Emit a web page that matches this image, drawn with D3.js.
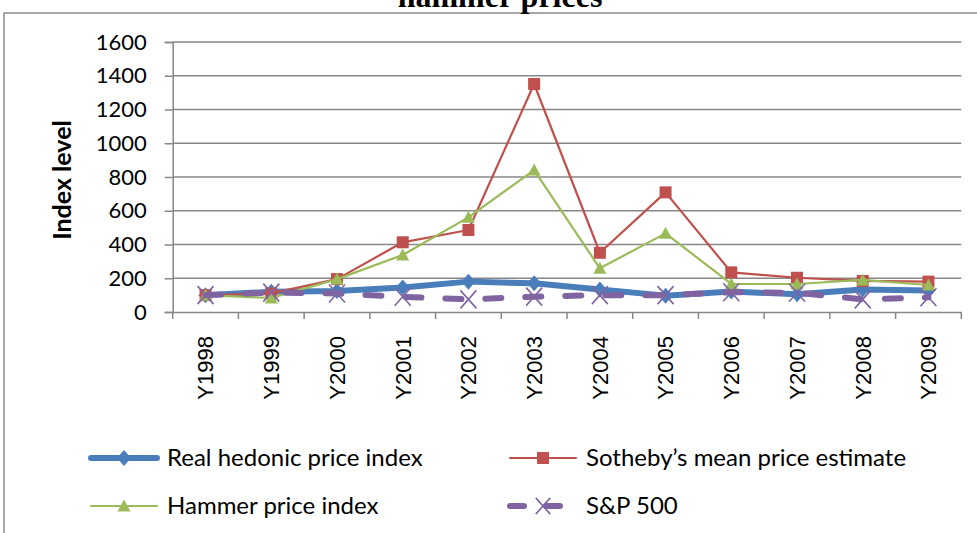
<!DOCTYPE html>
<html>
<head>
<meta charset="utf-8">
<script src="https://cdn.jsdelivr.net/npm/d3@7"></script>
<style>
  html, body { margin: 0; padding: 0; background: #fff; }
  svg { display: block; }
</style>
</head>
<body>
<svg id="chart" width="977" height="533"></svg>
<script>
const categories = ["Y1998","Y1999","Y2000","Y2001","Y2002","Y2003","Y2004","Y2005","Y2006","Y2007","Y2008","Y2009"];
const hedonic   = [100, 120, 125, 145, 180, 170, 134, 97, 121, 105, 134, 127];
const sothebys  = [100, 110, 195, 413, 486, 1351, 351, 709, 235, 203, 184, 180];
const hammer    = [100, 83, 195, 338, 561, 841, 259, 466, 166, 166, 190, 160];
const sp500     = [100, 115, 110, 90, 75, 91, 100, 100, 117, 114, 75, 87];
const yTicks = [0, 200, 400, 600, 800, 1000, 1200, 1400, 1600];
const seriesNames = ["Real hedonic price index", "Sotheby\u2019s mean price estimate", "Hammer price index", "S&P 500"];
const titleText = "hammer prices";
const yLabel = "Index level";

const svg = d3.select("#chart");
const W = 977, H = 533;
const plot = {left: 172.7, right: 961.3, top: 42, bottom: 312};
const gridColor = "#878787";
const calibri = "Lato, 'Open Sans', sans-serif";

// frame
svg.append("path")
  .attr("d", `M4,${H} L4,13 L${W},13`)
  .attr("fill", "none").attr("stroke", "#8c8c8c").attr("stroke-width", 1.5);

// title (partially cut off at top, as in the reference)
svg.append("text").text(titleText)
  .attr("x", 500).attr("y", 7)
  .attr("text-anchor", "middle")
  .attr("font-family", "'Liberation Serif', 'Times New Roman', serif")
  .attr("font-weight", "bold").attr("font-size", 32);

const x = d3.scaleBand().domain(categories).range([plot.left, plot.right]);
const y = d3.scaleLinear().domain([0, 1600]).range([plot.bottom, plot.top]);
const cx = c => x(c) + x.bandwidth() / 2;

// gridlines
svg.append("g").selectAll("line").data(yTicks.filter(v => v > 0)).join("line")
  .attr("x1", plot.left).attr("x2", plot.right)
  .attr("y1", d => y(d)).attr("y2", d => y(d))
  .attr("stroke", gridColor).attr("stroke-width", 1.5);

// y axis
const yAxis = d3.axisLeft(y).tickValues(yTicks).tickSize(8).tickPadding(18).tickFormat(d3.format("d"));
const gy = svg.append("g").attr("transform", `translate(${plot.left},0)`).call(yAxis);
gy.select(".domain").attr("stroke", gridColor).attr("stroke-width", 1.5);
gy.selectAll(".tick line").attr("stroke", gridColor).attr("stroke-width", 1.5);
gy.selectAll(".tick text").attr("font-family", calibri).attr("font-size", 22).attr("fill", "#000");

// x axis
const xAxis = d3.axisBottom(x).tickSize(0).tickFormat(d => d);
const gx = svg.append("g").attr("transform", `translate(0,${plot.bottom})`).call(xAxis);
gx.select(".domain").attr("stroke", gridColor).attr("stroke-width", 1.5);
gx.selectAll(".tick text")
  .attr("font-family", "'Liberation Sans', Arial, sans-serif").attr("font-size", 22).attr("fill", "#000")
  .attr("text-anchor", "end").attr("dy", "0.36em")
  .attr("transform", "translate(0,24) rotate(-90)")
  .attr("x", 0).attr("y", 0);
// boundary ticks
const bounds = categories.map(c => x(c)).concat([plot.right]);
svg.append("g").selectAll("line").data(bounds).join("line")
  .attr("x1", d => d).attr("x2", d => d)
  .attr("y1", plot.bottom).attr("y2", plot.bottom + 7)
  .attr("stroke", gridColor).attr("stroke-width", 1.5);

// y label
svg.append("text").text(yLabel)
  .attr("transform", "translate(71,180) rotate(-90)")
  .attr("text-anchor", "middle")
  .attr("font-family", calibri).attr("font-weight", "bold").attr("font-size", 25);

// marker drawers
function marker(g, type, px, py, color, scale) {
  const s = scale || 1;
  if (type === "diamond") {
    g.append("path").attr("d", `M${px},${py-8*s} L${px+7*s},${py} L${px},${py+8*s} L${px-7*s},${py} Z`).attr("fill", color);
  } else if (type === "square") {
    g.append("rect").attr("x", px-6*s).attr("y", py-6*s).attr("width", 12*s).attr("height", 12*s).attr("fill", color);
  } else if (type === "triangle") {
    g.append("path").attr("d", `M${px},${py-6.5*s} L${px+6.5*s},${py+5.5*s} L${px-6.5*s},${py+5.5*s} Z`).attr("fill", color);
  } else if (type === "x") {
    g.append("path").attr("d", `M${px-8*s},${py-9*s} L${px+8*s},${py+9*s} M${px+8*s},${py-9*s} L${px-8*s},${py+9*s}`)
      .attr("stroke", color).attr("stroke-width", 1.6).attr("fill", "none");
  }
}

const series = [
  {name: seriesNames[0], values: hedonic,  color: "#4a7ebb", width: 6,   dash: null,    marker: "diamond"},
  {name: seriesNames[1], values: sothebys, color: "#c0504d", width: 2.2, dash: null,    marker: "square"},
  {name: seriesNames[2], values: hammer,   color: "#9bbb59", width: 2.2, dash: null,    marker: "triangle"},
  {name: seriesNames[3], values: sp500,    color: "#8064a2", width: 6,   dash: "16,24", marker: "x"}
];

const line = d3.line().x((d, i) => cx(categories[i])).y(d => y(d));
series.forEach(s => {
  const g = svg.append("g");
  g.append("path").attr("d", line(s.values))
    .attr("fill", "none").attr("stroke", s.color).attr("stroke-width", s.width)
    .attr("stroke-linejoin", "round").attr("stroke-linecap", "round")
    .attr("stroke-dasharray", s.dash);
  s.values.forEach((v, i) => marker(g, s.marker, cx(categories[i]), y(v), s.color));
});

// legend
const legendPos = [[89, 458], [508, 458], [89, 506], [508, 506]];
series.forEach((s, i) => {
  const [lx, ly] = legendPos[i];
  const g = svg.append("g");
  g.append("line").attr("x1", lx + 2).attr("x2", lx + 68).attr("y1", ly).attr("y2", ly)
    .attr("stroke", s.color).attr("stroke-width", s.width)
    .attr("stroke-linecap", "round")
    .attr("stroke-dasharray", s.dash ? "14,22" : null);
  marker(g, s.marker, lx + 35, ly, s.color, s.marker === "x" ? 0.9 : 1);
  g.append("text").text(s.name)
    .attr("x", lx + 78).attr("y", ly).attr("dy", "0.35em")
    .attr("font-family", calibri).attr("font-size", 24).attr("fill", "#000");
});
</script>
</body>
</html>
